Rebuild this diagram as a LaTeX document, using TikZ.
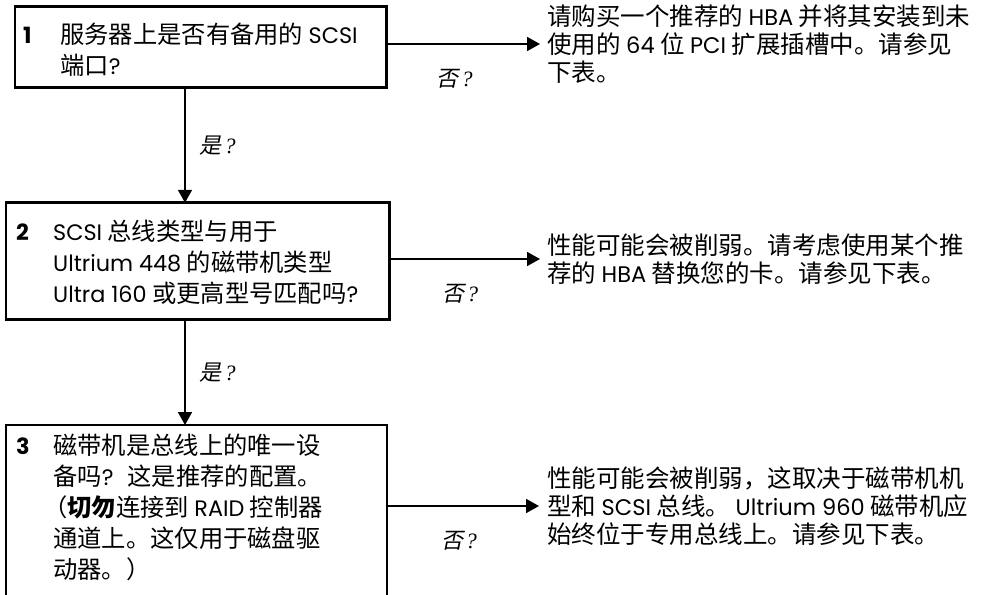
\documentclass[tikz,border=0pt]{standalone}
\usepackage{fontspec}
\setmainfont{Noto Sans CJK SC}
\newfontfamily\enfont[Scale=0.92]{Poppins}
\newfontfamily\slfont[FakeSlant=0.2]{Noto Sans CJK SC}
\newfontfamily\qmfont{Liberation Serif}
\usetikzlibrary{arrows.meta,positioning}
\newcommand{\en}[1]{{\enfont #1}}
\newcommand{\qno}[1]{\makebox[37pt][l]{\enfont\bfseries #1}}
\newcommand{\ind}{\hspace*{37pt}}
\newcommand{\isyes}{{\slfont 是}\kern2.8pt{\qmfont\itshape ?}}
\newcommand{\isno}{{\slfont 否}\kern2.8pt{\qmfont\itshape ?}}
\begin{document}
\begin{tikzpicture}[x=1pt, y=-1pt,
    qbox/.style={draw, line width=2.6pt, outer sep=0pt, inner sep=0pt},
    qtext/.style={anchor=north west, inner sep=0pt, align=left,
        font=\fontsize{24.3}{31}\selectfont},
    advice/.style={anchor=west, inner sep=0pt, align=left,
        font=\fontsize{24.5}{28}\selectfont},
    flow/.style={line width=1.8pt, -{Triangle[length=13pt,width=14pt]}},
    reply/.style={inner sep=0pt, font=\fontsize{22}{26}\selectfont}
]
\useasboundingbox (0,0) rectangle (981,594);
\clip (0,0) rectangle (981,594);

% question boxes
\node[qbox, minimum width=371.5pt, minimum height=81pt] (q1) at (200.75,47) {};
\node[qbox, minimum width=383.5pt, minimum height=117pt] (q2) at (197.75,261.25) {};
\node[qbox, minimum width=381pt, minimum height=250pt] (q3) at (196.5,550) {};

\node[qtext] (t1) at ([xshift=8pt, yshift=-16pt]q1.north west)
    {\qno{1}服务器上是否有备用的 \en{SCSI}\\
     \ind 端口\en{?}};
\node[qtext] (t2) at ([xshift=10pt, yshift=-17.5pt]q2.north west)
    {\qno{2}\en{SCSI} 总线类型与用于\\
     \ind\en{Ultrium 448} 的磁带机类型\\
     \ind\en{Ultra 160} 或更高型号匹配吗\en{?}};
\node[qtext] (t3) at ([xshift=10pt, yshift=-8.5pt]q3.north west)
    {\qno{3}磁带机是总线上的唯一设\\
     \ind 备吗\en{?}\hspace{14pt}这是推荐的配置。\\
     \ind\hspace*{-10pt}（\textbf{切勿}连接到 \en{RAID} 控制器\\
     \ind 通道上。这仅用于磁盘驱\\
     \ind 动器。）};

% advice texts
\node[advice] (a1) at (547,44)
    {请购买一个推荐的 \en{HBA} 并将其安装到未\\
     使用的 \en{64} 位 \en{PCI} 扩展插槽中。请参见\\
     下表。};
\node[advice] (a2) at (547,259)
    {性能可能会被削弱。请考虑使用某个推\\
     荐的 \en{HBA} 替换您的卡。请参见下表。};
\node[advice] (a3) at (547,506)
    {性能可能会被削弱，这取决于磁带机机\\
     型和 \en{SCSI} 总线。 \en{Ultrium 960} 磁带机应\\
     始终位于专用总线上。请参见下表。};

% connectors
\coordinate (spine) at (185,0);
\draw[flow] (q1.south -| spine) -- node[reply, right=14pt] (y1) {\isyes} (q2.north -| spine);
\draw[flow] (q2.south -| spine) -- node[reply, right=14pt] (y2) {\isyes} (q3.north -| spine);
\draw[flow, shorten >=7pt] (q1.east |- a1.west) -- node[reply, below=24pt, xshift=-12pt] (n1) {\isno} (a1.west);
\draw[flow, shorten >=7pt] (q2.east |- a2.west) -- node[reply, below=24pt, xshift=-8pt] (n2) {\isno} (a2.west);
\draw[flow, shorten >=8pt] (q3.east |- a3.west) -- node[reply, below=24pt, xshift=-8pt] (n3) {\isno} (a3.west);
\end{tikzpicture}
\end{document}
